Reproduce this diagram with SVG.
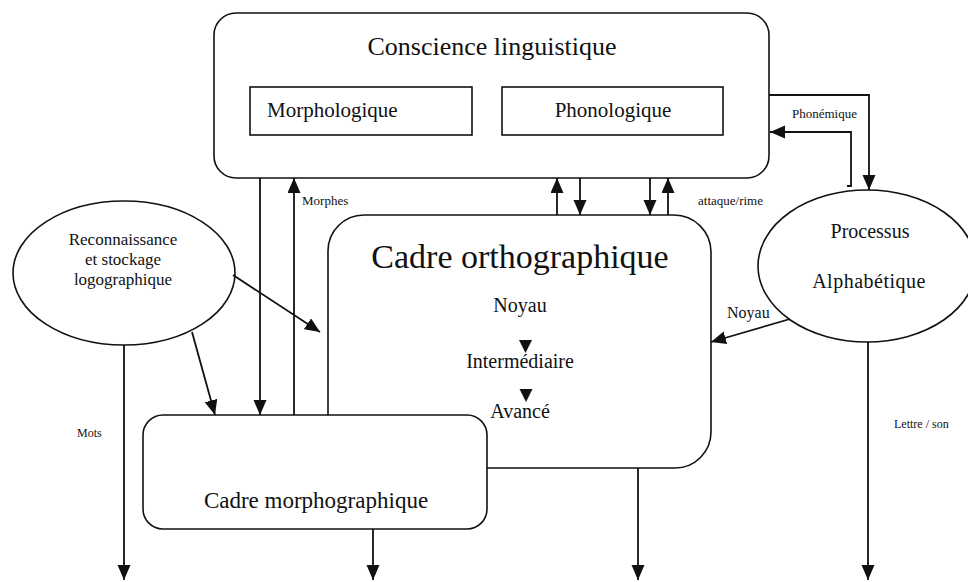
<svg xmlns="http://www.w3.org/2000/svg" width="968" height="582" viewBox="0 0 968 582">
<style>
  .box { fill: none; stroke: #111; stroke-width: 1.6; }
  .ln { fill: none; stroke: #111; stroke-width: 1.8; }
  .arr { fill: none; stroke: #111; stroke-width: 1.8; marker-end: url(#ah); }
  text { font-family: "Liberation Serif", "Times New Roman", serif; fill: #111; }
  .c { text-anchor: middle; }
  .sm { font-size: 13px; }
</style>
<defs>
  <marker id="ah" markerUnits="userSpaceOnUse" markerWidth="16" markerHeight="14" refX="15" refY="6.5" orient="auto">
    <path d="M0,0 L15,6.5 L0,13 z" fill="#111"/>
  </marker>
</defs>
<rect width="968" height="582" fill="#fff"/>

<g id="conscience">
  <rect class="box" x="214" y="13" width="555" height="165" rx="22"/>
  <text class="c" x="492" y="55" font-size="26">Conscience linguistique</text>
  <g id="morphologique">
    <rect class="box" x="250" y="87" width="222" height="48"/>
    <text x="267" y="117" font-size="21">Morphologique</text>
  </g>
  <g id="phonologique">
    <rect class="box" x="502" y="87" width="221" height="48"/>
    <text class="c" x="613" y="117" font-size="21">Phonologique</text>
  </g>
</g>

<g id="logographique">
  <ellipse class="box" cx="124" cy="273" rx="111" ry="72"/>
  <text class="c" x="123" y="245" font-size="17">Reconnaissance</text>
  <text class="c" x="123" y="265" font-size="17">et stockage</text>
  <text class="c" x="123" y="285" font-size="17">logographique</text>
</g>

<g id="processus">
  <ellipse class="box" cx="867" cy="266" rx="109" ry="76"/>
  <text class="c" x="870" y="238" font-size="20">Processus</text>
  <text class="c" x="869" y="288" font-size="20" letter-spacing="0.5">Alphabétique</text>
</g>

<g id="orthographique">
  <path class="box" d="M328,415 L328,251 A36,36 0 0 1 364,215 L674,215 A37,37 0 0 1 711,252 L711,432 A36,36 0 0 1 675,468 L487,468"/>
  <text class="c" x="520" y="268" font-size="34">Cadre orthographique</text>
  <text class="c" x="520" y="312" font-size="20">Noyau</text>
  <path d="M519,340 L532,340 L525.5,353 z" fill="#111"/>
  <text class="c" x="520" y="368" font-size="20">Intermédiaire</text>
  <path d="M519.5,389 L532.5,389 L526,402 z" fill="#111"/>
  <text class="c" x="520" y="418" font-size="20">Avancé</text>
</g>

<g id="morphographique">
  <rect class="box" x="143" y="415" width="344" height="114" rx="20"/>
  <text class="c" x="316" y="508" font-size="23">Cadre morphographique</text>
</g>

<g id="connectors">
  <line class="arr" x1="260" y1="178" x2="260" y2="415"/>
  <line class="arr" x1="294" y1="415" x2="294" y2="178"/>
  <line class="arr" x1="557" y1="215" x2="557" y2="178"/>
  <line class="arr" x1="580" y1="178" x2="580" y2="215"/>
  <line class="arr" x1="650" y1="178" x2="650" y2="215"/>
  <line class="arr" x1="668" y1="215" x2="668" y2="178"/>
  <line class="arr" x1="233" y1="275" x2="320" y2="332"/>
  <line class="arr" x1="192" y1="332" x2="215" y2="415"/>
  <line class="arr" x1="124" y1="345" x2="124" y2="580"/>
  <line class="arr" x1="373" y1="529" x2="373" y2="580"/>
  <line class="arr" x1="638" y1="468" x2="638" y2="580"/>
  <line class="arr" x1="868" y1="342" x2="868" y2="580"/>
  <polyline class="arr" points="769,95 869,95 869,190"/>
  <polyline class="arr" points="847,186 851,186 851,132 770,132"/>
  <line class="arr" x1="790" y1="319" x2="711" y2="342"/>
  <text x="302" y="205" class="sm">Morphes</text>
  <text x="698" y="205" class="sm">attaque/rime</text>
  <text x="792" y="118" class="sm">Phonémique</text>
  <text x="727" y="318" font-size="16">Noyau</text>
  <text x="77" y="437" font-size="12">Mots</text>
  <text x="894" y="428" font-size="12">Lettre / son</text>
</g>
</svg>
